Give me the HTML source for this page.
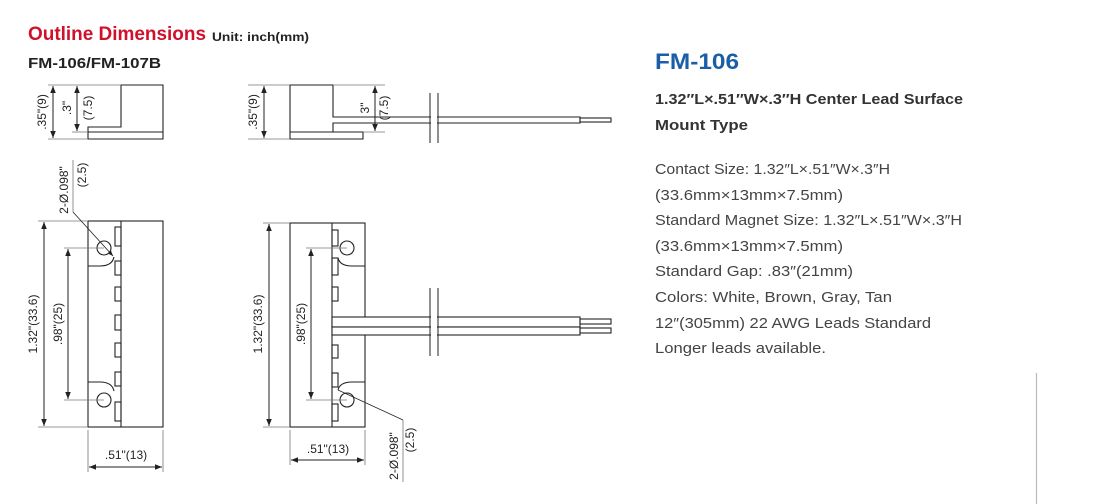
<!DOCTYPE html>
<html><head><meta charset="utf-8"><style>
html,body{margin:0;padding:0;background:#fff;width:1093px;height:504px;overflow:hidden}
svg{display:block}
</style></head><body>
<svg width="1093" height="504" viewBox="0 0 1093 504" xmlns="http://www.w3.org/2000/svg" font-family="Liberation Sans, sans-serif">
<defs>
<marker id="a" viewBox="0 0 10 10" refX="10" refY="5" markerWidth="7" markerHeight="7" orient="auto-start-reverse"><path d="M0,1 L10,5 L0,9 z" fill="#222"/></marker>
</defs>
<text x="28" y="40" font-size="19.5" font-weight="bold" fill="#d0112b" textLength="178" lengthAdjust="spacingAndGlyphs">Outline Dimensions</text>
<text x="212" y="41" font-size="12" font-weight="bold" fill="#222" textLength="97" lengthAdjust="spacingAndGlyphs">Unit: inch(mm)</text>
<text x="28" y="68" font-size="14.5" font-weight="bold" fill="#222" textLength="133" lengthAdjust="spacingAndGlyphs">FM-106/FM-107B</text>

<text x="655" y="69" font-size="22" font-weight="bold" fill="#1a5ea8" textLength="84" lengthAdjust="spacingAndGlyphs">FM-106</text>
<text x="655" y="104" font-size="15" font-weight="bold" fill="#333" textLength="308" lengthAdjust="spacingAndGlyphs">1.32″L×.51″W×.3″H Center Lead Surface</text>
<text x="655" y="130" font-size="15" font-weight="bold" fill="#333" textLength="93" lengthAdjust="spacingAndGlyphs">Mount Type</text>
<g font-size="15" fill="#444">
<text x="655" y="174" textLength="235" lengthAdjust="spacingAndGlyphs">Contact Size: 1.32″L×.51″W×.3″H</text>
<text x="655" y="200" textLength="188" lengthAdjust="spacingAndGlyphs">(33.6mm×13mm×7.5mm)</text>
<text x="655" y="225" textLength="307" lengthAdjust="spacingAndGlyphs">Standard Magnet Size: 1.32″L×.51″W×.3″H</text>
<text x="655" y="251" textLength="188" lengthAdjust="spacingAndGlyphs">(33.6mm×13mm×7.5mm)</text>
<text x="655" y="276" textLength="198" lengthAdjust="spacingAndGlyphs">Standard Gap: .83″(21mm)</text>
<text x="655" y="302" textLength="237" lengthAdjust="spacingAndGlyphs">Colors: White, Brown, Gray, Tan</text>
<text x="655" y="328" textLength="276" lengthAdjust="spacingAndGlyphs">12″(305mm) 22 AWG Leads Standard</text>
<text x="655" y="353" textLength="171" lengthAdjust="spacingAndGlyphs">Longer leads available.</text>
</g>
<line x1="1036.5" y1="373" x2="1036.5" y2="504" stroke="#bbb" stroke-width="1.2"/>

<g fill="none" stroke="#222" stroke-width="1.1">
<path d="M121,85 H163 V139 H88 V127 H121 Z"/>
<line x1="88" y1="132" x2="163" y2="132"/>
<rect x="88" y="221" width="75" height="206"/>
<line x1="121" y1="221" x2="121" y2="427"/>
<rect x="115" y="227" width="6" height="19"/><rect x="115" y="261" width="6" height="14"/>
<rect x="115" y="287" width="6" height="14"/><rect x="115" y="315" width="6" height="15"/>
<rect x="115" y="343" width="6" height="14"/><rect x="115" y="372" width="6" height="14"/>
<rect x="115" y="402" width="6" height="19"/>
<circle cx="104" cy="248" r="7"/><circle cx="104" cy="400" r="7"/>
<path d="M88,266 H100 Q112,266 114,257"/>
<path d="M88,382 H100 Q112,382 114,391"/>
<path d="M290,85 H333 V117 H580 V123 H333 V132 H363 V139 H290 Z"/>
<line x1="290" y1="132" x2="333" y2="132"/>
<rect x="580" y="118" width="31" height="4"/>
<rect x="290" y="223" width="75" height="204"/>
<line x1="332" y1="223" x2="332" y2="427"/>
<rect x="332" y="230" width="6" height="16"/><rect x="332" y="258" width="6" height="17"/>
<rect x="332" y="287" width="6" height="14"/><rect x="332" y="345" width="6" height="13"/>
<rect x="332" y="373" width="6" height="14"/><rect x="332" y="404" width="6" height="17"/>
<circle cx="347" cy="248" r="7"/><circle cx="347" cy="400" r="7"/>
<path d="M365,266 H352 Q340,266 338,258"/>
<path d="M365,382 H352 Q340,382 338,390"/>
<rect x="332" y="317" width="248" height="10" fill="#fff"/>
<rect x="332" y="327" width="248" height="8" fill="#fff"/>
<rect x="580" y="319" width="31" height="5"/>
<rect x="580" y="328" width="31" height="5"/>
</g>
<rect x="431" y="112" width="6" height="16" fill="#fff"/>
<rect x="431" y="312" width="6" height="28" fill="#fff"/>
<g stroke="#222" stroke-width="1"><line x1="430" y1="93" x2="430" y2="143"/><line x1="438" y1="93" x2="438" y2="143"/>
<line x1="430" y1="288" x2="430" y2="356"/><line x1="438" y1="288" x2="438" y2="356"/></g>

<g stroke="#777" stroke-width="0.8" fill="none">
<line x1="48" y1="85" x2="121" y2="85"/><line x1="48" y1="139" x2="88" y2="139"/><line x1="72" y1="132" x2="88" y2="132"/>
<line x1="38" y1="221" x2="88" y2="221"/><line x1="38" y1="427" x2="88" y2="427"/>
<line x1="64" y1="248" x2="104" y2="248"/><line x1="64" y1="400" x2="104" y2="400"/>
<line x1="88" y1="430" x2="88" y2="472"/><line x1="163" y1="430" x2="163" y2="472"/>
<line x1="248" y1="85" x2="290" y2="85"/><line x1="248" y1="139" x2="290" y2="139"/>
<line x1="333" y1="85" x2="385" y2="85"/><line x1="363" y1="132" x2="385" y2="132"/>
<line x1="263" y1="223" x2="290" y2="223"/><line x1="263" y1="427" x2="290" y2="427"/>
<line x1="306" y1="248" x2="347" y2="248"/><line x1="306" y1="400" x2="347" y2="400"/>
<line x1="290" y1="430" x2="290" y2="465"/><line x1="365" y1="430" x2="365" y2="465"/>
<line x1="73" y1="160" x2="73" y2="212"/><line x1="73" y1="212" x2="113" y2="256" marker-end="url(#a)" stroke="#222"/>
<line x1="403" y1="420" x2="403" y2="482"/><line x1="403" y1="420" x2="338" y2="390" stroke="#222"/>
</g>
<g stroke="#222" stroke-width="1" marker-start="url(#a)" marker-end="url(#a)">
<line x1="53" y1="86" x2="53" y2="138"/><line x1="77" y1="86" x2="77" y2="131"/>
<line x1="44" y1="222" x2="44" y2="426"/><line x1="68" y1="249" x2="68" y2="399"/>
<line x1="89" y1="467" x2="162" y2="467"/>
<line x1="264" y1="86" x2="264" y2="138"/><line x1="375" y1="86" x2="375" y2="131"/>
<line x1="269" y1="224" x2="269" y2="426"/><line x1="311" y1="249" x2="311" y2="399"/>
<line x1="291" y1="460" x2="364" y2="460"/>
</g>
<g font-size="12" fill="#222" text-anchor="middle">
<text transform="translate(46,112) rotate(-90)">.35"(9)</text>
<text transform="translate(71,108) rotate(-90)">.3"</text>
<text transform="translate(92,108) rotate(-90)">(7.5)</text>
<text transform="translate(37,324) rotate(-90)">1.32"(33.6)</text>
<text transform="translate(62,324) rotate(-90)">.98"(25)</text>
<text x="126" y="459">.51"(13)</text>
<text transform="translate(68,190) rotate(-90)">2-Ø.098"</text>
<text transform="translate(86,175) rotate(-90)">(2.5)</text>
<text transform="translate(257,112) rotate(-90)">.35"(9)</text>
<text transform="translate(369,108) rotate(-90)">3"</text>
<text transform="translate(388,108) rotate(-90)">(7.5)</text>
<text transform="translate(262,324) rotate(-90)">1.32"(33.6)</text>
<text transform="translate(305,324) rotate(-90)">.98"(25)</text>
<text x="328" y="453">.51"(13)</text>
<text transform="translate(398,456) rotate(-90)">2-Ø.098"</text>
<text transform="translate(414,440) rotate(-90)">(2.5)</text>
</g>
</svg>
</body></html>
